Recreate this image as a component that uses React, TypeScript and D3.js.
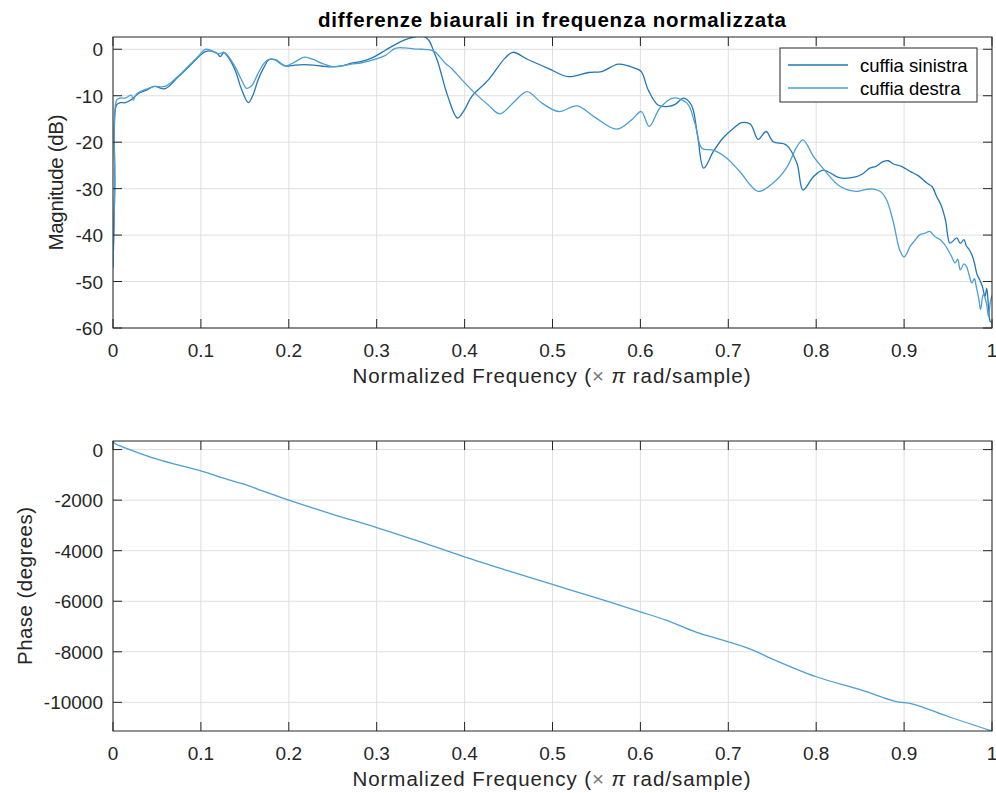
import React, { useRef, useEffect } from 'react';
import * as d3 from 'd3';

// --- data ---
const freqTicks = [0, 0.1, 0.2, 0.3, 0.4, 0.5, 0.6, 0.7, 0.8, 0.9, 1];
const magTicks = [0, -10, -20, -30, -40, -50, -60];
const phaseTicks = [0, -2000, -4000, -6000, -8000, -10000];

const sinistraFreq = [
  0, 0.002, 0.004, 0.008, 0.014, 0.021, 0.029, 0.038, 0.047, 0.059, 0.074, 0.086, 0.097, 0.105,
  0.112, 0.118, 0.122, 0.126, 0.13, 0.139, 0.146, 0.154, 0.16, 0.165, 0.172, 0.177, 0.184, 0.196,
  0.207, 0.218, 0.228, 0.237, 0.249, 0.262, 0.271, 0.283, 0.294, 0.31, 0.321, 0.332, 0.342, 0.351,
  0.359, 0.365, 0.37, 0.381, 0.392, 0.4, 0.408, 0.427, 0.446, 0.455, 0.472, 0.495, 0.518, 0.541,
  0.556, 0.575, 0.594, 0.601, 0.609, 0.62, 0.632, 0.64, 0.649, 0.658, 0.665, 0.672, 0.683, 0.694,
  0.706, 0.715, 0.725, 0.734, 0.743, 0.751, 0.766, 0.778, 0.785, 0.797, 0.808, 0.827, 0.846, 0.853,
  0.861, 0.868, 0.876, 0.882, 0.888, 0.897, 0.907, 0.916, 0.926, 0.932, 0.937, 0.942, 0.947, 0.952,
  0.956, 0.96, 0.964, 0.968, 0.971, 0.974, 0.977, 0.98, 0.983, 0.986, 0.989, 0.992, 0.994, 0.996,
  0.998, 1.0,
];
const sinistraDb = [
  -47, -30, -12, -11.5, -11.5, -10.8, -9.5, -8.8, -8.0, -8.5, -6.0, -3.8, -1.7, -0.5,
  -0.4, -0.8, -1.6, -0.7, -1.4, -4.5, -8.5, -11.5, -9.5, -6.6, -3.8, -2.3, -2.2, -3.6,
  -3.4, -3.3, -3.4, -3.6, -3.8, -3.5, -3.0, -2.6, -1.9, -0.2, 1.0, 2.0, 2.6, 2.9,
  2.0, -0.5, -3.0, -10.2, -14.8, -13.0, -10.2, -6.6, -1.9, -0.65, -2.2, -4.1, -5.9, -5.0,
  -4.8, -3.2, -4.1, -4.8, -8.8, -12.0, -12.3, -11.8, -10.5, -12.0, -18.5, -25.6, -22.0, -19.1,
  -17.0, -15.8, -16.1, -19.4, -17.7, -19.9, -20.6, -24.5, -30.3, -27.4, -26.0, -27.7, -27.4, -26.8,
  -25.6, -25.2, -24.2, -24.0, -24.7, -25.2, -26.3, -27.2, -28.8, -29.6, -31.7, -33.5, -36.7, -41.7,
  -41.2, -40.6, -41.8, -41.0, -42.4, -43.1, -44.2, -46.0, -48.5, -49.6, -51.0, -53.2, -51.5, -55.4,
  -58.6, -58.8,
];

const destraFreq = [
  0, 0.002, 0.004, 0.008, 0.014, 0.021, 0.023, 0.026, 0.029, 0.038, 0.047, 0.059, 0.074, 0.086,
  0.097, 0.105, 0.112, 0.118, 0.122, 0.126, 0.13, 0.139, 0.146, 0.152, 0.158, 0.165, 0.172, 0.177,
  0.184, 0.196, 0.207, 0.218, 0.228, 0.237, 0.249, 0.262, 0.271, 0.283, 0.294, 0.31, 0.321, 0.332,
  0.342, 0.351, 0.359, 0.366, 0.378, 0.385, 0.397, 0.412, 0.427, 0.44, 0.457, 0.471, 0.488, 0.507,
  0.528, 0.548, 0.573, 0.59, 0.601, 0.61, 0.622, 0.637, 0.653, 0.662, 0.67, 0.683, 0.698, 0.713,
  0.734, 0.751, 0.766, 0.778, 0.785, 0.797, 0.808, 0.827, 0.846, 0.856, 0.865, 0.873, 0.88, 0.888,
  0.895, 0.9, 0.907, 0.912, 0.918, 0.924, 0.929, 0.935, 0.941, 0.946, 0.95, 0.954, 0.958, 0.961,
  0.964, 0.968, 0.971, 0.974, 0.977, 0.98, 0.982, 0.985, 0.987, 0.99, 0.992, 0.994, 0.996, 0.998,
  1.0,
];
const destraDb = [
  -47, -30, -11, -10.5, -10.5, -9.9, -11.0, -9.8, -9.3, -8.6, -8.0, -8.0, -5.8, -3.6,
  -1.5, 0.0, -0.3, -0.9, -0.9, -0.6, -1.2, -3.8, -6.5, -8.4, -7.8, -5.2, -3.0, -2.2,
  -2.3, -3.6, -2.7, -1.7, -2.2, -3.0, -3.7, -3.5, -3.2, -2.9, -2.4, -1.3, 0.2, 0.3,
  0.1, 0.0, -0.1, -0.5, -3.0, -4.1, -6.6, -9.5, -12.0, -13.9, -11.2, -9.1, -11.6, -13.4,
  -12.2, -14.6, -17.2, -15.2, -13.4, -16.6, -12.7, -10.5, -11.6, -15.9, -21.3, -21.7, -23.4, -26.3,
  -30.6, -28.8, -25.6, -21.0, -19.5, -23.1, -25.7, -29.5, -30.6, -30.2, -30.1, -30.6, -32.4, -37.4,
  -43.2, -44.7, -42.4, -41.2, -39.9, -39.6, -39.2, -40.3, -41.0, -42.0, -43.2, -44.6, -46.0, -45.2,
  -47.5, -46.2, -46.8, -48.6, -50.3, -49.4, -51.0, -53.8, -56.0, -52.8, -53.5, -55.0, -57.5, -54.5,
  -53.0,
];

const phaseFreq = [
  0, 0.003, 0.01, 0.05, 0.1, 0.13, 0.15, 0.165, 0.2, 0.25, 0.3, 0.35, 0.4, 0.45, 0.5, 0.55,
  0.6, 0.63, 0.664, 0.7, 0.73, 0.749, 0.8, 0.85, 0.89, 0.91, 0.95, 1.0,
];
const phaseDeg = [
  330, 220, 120, -380, -845, -1180, -1380, -1570, -2000, -2560, -3083, -3650, -4245, -4800, -5336, -5870,
  -6418, -6760, -7233, -7604, -7960, -8270, -8988, -9500, -9960, -10067, -10560, -11134,
];

const seriesNames = ['cuffia sinistra', 'cuffia destra'];
const seriesColors = ['#2277b4', '#4d9fd2'];

const FONT = '"Liberation Sans", Arial, Helvetica, sans-serif';
const INK = '#262626';

const App = () => {
  const svgRef = useRef<SVGSVGElement>(null);
  const width = 996;
  const height = 793;

  useEffect(() => {
    const svg = d3.select(svgRef.current);
    svg.selectAll('*').remove();

    const left = 113;
    const right = 992;
    const x = d3.scaleLinear().domain([0, 1]).range([left, right]);

    const drawPanel = (
      id: string,
      top: number,
      bottom: number,
      yDomain: [number, number],
      yTicks: number[],
      yLabel: string,
      yLabelX: number,
      yLabelLen: number,
      lines: { xs: number[]; ys: number[]; color: string }[]
    ) => {
      const y = d3.scaleLinear().domain(yDomain).range([bottom, top]);
      const g = svg.append('g');

      g.append('rect')
        .attr('x', left).attr('y', top)
        .attr('width', right - left).attr('height', bottom - top)
        .attr('fill', '#fff');

      // grid
      g.selectAll('.vgrid').data(freqTicks).enter().append('line')
        .attr('x1', (d) => x(d)).attr('x2', (d) => x(d))
        .attr('y1', top).attr('y2', bottom)
        .attr('stroke', '#dfdfdf').attr('stroke-width', 1);
      g.selectAll('.hgrid').data(yTicks).enter().append('line')
        .attr('x1', left).attr('x2', right)
        .attr('y1', (d) => y(d)).attr('y2', (d) => y(d))
        .attr('stroke', '#dfdfdf').attr('stroke-width', 1);

      // curves
      svg.append('clipPath').attr('id', id)
        .append('rect')
        .attr('x', left).attr('y', top)
        .attr('width', right - left).attr('height', bottom - top);

      const line = d3.line<[number, number]>()
        .x((d) => x(d[0]))
        .y((d) => y(d[1]))
        .curve(d3.curveCatmullRom.alpha(0.5));

      lines.forEach((s) => {
        const pts = s.xs.map((v, i) => [v, s.ys[i]] as [number, number]);
        g.append('path')
          .attr('d', line(pts))
          .attr('fill', 'none')
          .attr('stroke', s.color)
          .attr('stroke-width', 1.3)
          .attr('clip-path', `url(#${id})`);
      });

      // inward ticks on all four sides
      const tl = 9;
      freqTicks.forEach((t) => {
        g.append('line').attr('x1', x(t)).attr('x2', x(t)).attr('y1', bottom).attr('y2', bottom - tl)
          .attr('stroke', INK);
        g.append('line').attr('x1', x(t)).attr('x2', x(t)).attr('y1', top).attr('y2', top + tl)
          .attr('stroke', INK);
      });
      yTicks.forEach((t) => {
        g.append('line').attr('x1', left).attr('x2', left + tl).attr('y1', y(t)).attr('y2', y(t))
          .attr('stroke', INK);
        g.append('line').attr('x1', right).attr('x2', right - tl).attr('y1', y(t)).attr('y2', y(t))
          .attr('stroke', INK);
      });

      g.append('rect')
        .attr('x', left).attr('y', top)
        .attr('width', right - left).attr('height', bottom - top)
        .attr('fill', 'none').attr('stroke', INK).attr('stroke-width', 1);

      // tick labels
      g.selectAll('.xt').data(freqTicks).enter().append('text')
        .attr('x', (d) => x(d)).attr('y', bottom + 29)
        .attr('text-anchor', 'middle')
        .attr('font-family', FONT).attr('font-size', 19).attr('fill', INK)
        .text((d) => String(d));
      g.selectAll('.yt').data(yTicks).enter().append('text')
        .attr('x', left - 10).attr('y', (d) => y(d) + 7)
        .attr('text-anchor', 'end')
        .attr('font-family', FONT).attr('font-size', 19).attr('fill', INK)
        .text((d) => String(d));

      // axis labels
      const xl = g.append('text')
        .attr('x', (left + right) / 2 - 1).attr('y', bottom + 55)
        .attr('text-anchor', 'middle')
        .attr('font-family', FONT).attr('font-size', 20.5).attr('fill', INK)
        .attr('textLength', 398).attr('lengthAdjust', 'spacing');
      xl.append('tspan').text('Normalized Frequency  (');
      xl.append('tspan').text('×').attr('fill', '#777');
      xl.append('tspan').text(' π').attr('font-style', 'italic');
      xl.append('tspan').text(' rad/sample)');

      g.append('text')
        .attr('transform', `translate(${yLabelX}, ${(top + bottom) / 2}) rotate(-90)`)
        .attr('text-anchor', 'middle')
        .attr('font-family', FONT).attr('font-size', 20.5).attr('fill', INK)
        .attr('textLength', yLabelLen).attr('lengthAdjust', 'spacing')
        .text(yLabel);

      return y;
    };

    drawPanel('clip-mag', 37, 328, [-60, 2.64], magTicks, 'Magnitude (dB)', 63, 136, [
      { xs: sinistraFreq, ys: sinistraDb, color: seriesColors[0] },
      { xs: destraFreq, ys: destraDb, color: seriesColors[1] },
    ]);
    drawPanel('clip-phase', 441, 731, [-11134, 340], phaseTicks, 'Phase (degrees)', 32, 158, [
      { xs: phaseFreq, ys: phaseDeg, color: seriesColors[1] },
    ]);

    // title
    svg.append('text')
      .attr('x', 552).attr('y', 27)
      .attr('text-anchor', 'middle')
      .attr('font-family', FONT).attr('font-size', 20.5).attr('font-weight', 'bold').attr('fill', '#000')
      .attr('textLength', 468).attr('lengthAdjust', 'spacing')
      .text('differenze biaurali in frequenza normalizzata');

    // legend
    const lg = svg.append('g');
    lg.append('rect')
      .attr('x', 780).attr('y', 48).attr('width', 197).attr('height', 54)
      .attr('fill', '#fff').attr('stroke', INK).attr('stroke-width', 1);
    seriesNames.forEach((name, i) => {
      const yy = 65 + i * 23;
      lg.append('line').attr('x1', 788).attr('x2', 848).attr('y1', yy).attr('y2', yy)
        .attr('stroke', seriesColors[i]).attr('stroke-width', 1.3);
      lg.append('text').attr('x', 860).attr('y', yy + 6.5)
        .attr('font-family', FONT).attr('font-size', 18.5).attr('fill', '#000')
        .text(name);
    });
  }, []);

  return (
    <svg
      ref={svgRef}
      width={width}
      height={height}
      style={{ position: 'absolute', left: 0, top: 0, background: '#fff' }}
    />
  );
};

export default App;
